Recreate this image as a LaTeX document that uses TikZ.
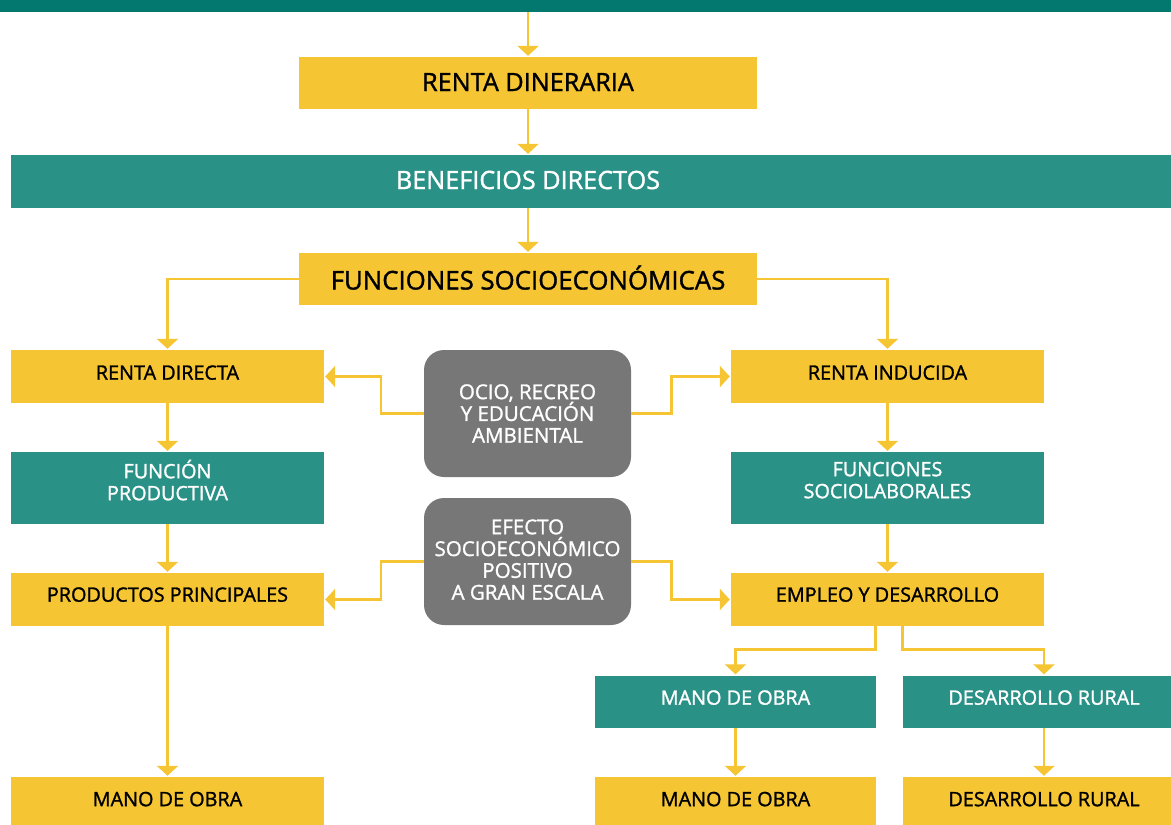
\documentclass[tikz,border=0pt]{standalone}
\usepackage{fontspec}
\setmainfont{Open Sans}[FakeBold=1.3]
\usetikzlibrary{arrows.meta}
\definecolor{cyellow}{HTML}{F5C533}
\definecolor{cteal}{HTML}{2A9187}
\definecolor{cdark}{HTML}{03786F}
\definecolor{cgray}{HTML}{777777}
\tikzset{
  box/.style={rectangle, inner sep=0pt, align=center, font=\fontsize{19.8}{22}\selectfont},
  ybox/.style={box, fill=cyellow, text=black},
  tbox/.style={box, fill=cteal, text=white},
  gbox/.style={box, fill=cgray, text=white, rounded corners=20pt, minimum width=207pt, minimum height=127pt, font=\fontsize{20.5}{21.8}\selectfont},
  big/.style={font=\fontsize{25.2}{28}\selectfont},
  up4/.style={text depth=8pt},
  up8/.style={text depth=16pt},
  arr/.style={draw=cyellow, line width=2.6pt, -{Triangle[width=21pt,length=10pt]}, shorten >=1pt}
}
\begin{document}
\begin{tikzpicture}[x=1pt,y=-1pt]
\useasboundingbox (0,0) rectangle (1171,825);
\clip (0,0) rectangle (1171,825);
\node[box, fill=cdark, minimum width=1171pt, minimum height=12pt] (topbar) at (585.5,6) {};
\node[ybox, big, text depth=2pt, minimum width=458pt, minimum height=52pt] (rdin) at (528,83) {RENTA DINERARIA};
\node[tbox, minimum width=1160pt, minimum height=53pt] (bene) at (591,181.5) {};
\node[box, big, text=white] (benetext) at (528,180) {BENEFICIOS DIRECTOS};
\node[ybox, font=\fontsize{25.8}{29}\selectfont, text depth=3pt, minimum width=458pt, minimum height=52pt] (fsoc) at (528,279) {FUNCIONES SOCIOECONÓMICAS};
\node[ybox, up4, minimum width=313pt, minimum height=53pt] (rdir) at (167.5,376.5) {RENTA DIRECTA};
\node[ybox, up4, minimum width=313pt, minimum height=53pt] (rind) at (887.5,376.5) {RENTA INDUCIDA};
\node[gbox] (ocio) at (527.5,413.5) {OCIO, RECREO\\Y EDUCACIÓN\\AMBIENTAL};
\node[tbox, up8, minimum width=313pt, minimum height=72pt] (fprod) at (167.5,488) {FUNCIÓN\\PRODUCTIVA};
\node[tbox, up8, minimum width=313pt, minimum height=72pt] (fsl) at (887.5,488) {FUNCIONES\\SOCIOLABORALES};
\node[gbox, text depth=4pt] (efecto) at (527.5,561.5) {EFECTO\\SOCIOECONÓMICO\\POSITIVO\\A GRAN ESCALA};
\node[ybox, up4, text depth=10pt, minimum width=313pt, minimum height=53pt] (pprin) at (167.5,599.5) {PRODUCTOS PRINCIPALES};
\node[ybox, up4, text depth=10pt, minimum width=313pt, minimum height=53pt] (empleo) at (887.5,599.5) {EMPLEO Y DESARROLLO};
\node[tbox, up4, minimum width=281pt, minimum height=52pt] (mot) at (735.5,701.5) {MANO DE OBRA};
\node[tbox, up4, minimum width=282pt, minimum height=52pt] (drt) at (1044,701.5) {DESARROLLO RURAL};
\node[ybox, text depth=4pt, minimum width=281pt, minimum height=48pt] (moy) at (735.5,801) {MANO DE OBRA};
\node[ybox, text depth=4pt, minimum width=282pt, minimum height=48pt] (dry) at (1044,801) {DESARROLLO RURAL};
\node[ybox, text depth=4pt, minimum width=313pt, minimum height=48pt] (moyl) at (167.5,801) {MANO DE OBRA};

\draw[arr] (rdin.north |- topbar.south) -- (rdin.north);
\draw[arr] (rdin.south) -- (rdin.south |- bene.north);
\draw[arr] (fsoc.north |- bene.south) -- (fsoc.north);
\draw[arr] (fsoc.west) -| (rdir.north);
\draw[arr] (fsoc.east) -| (rind.north);
\draw[arr] (rdir.south) -- (fprod.north);
\draw[arr] (fprod.south) -- (pprin.north);
\draw[arr] (pprin.south) -- (moyl.north);
\draw[arr] (rind.south) -- (fsl.north);
\draw[arr] (fsl.south) -- (empleo.north);
\draw[arr] (ocio.west) -- ++(-43,0) |- (rdir.east);
\draw[arr] (ocio.east) -- ++(40,0) |- (rind.west);
\draw[arr] (efecto.west) -- ++(-43,0) |- (pprin.east);
\draw[arr] (efecto.east) -- ++(40,0) |- (empleo.west);
\draw[arr] ([xshift=-12pt]empleo.south) -- ++(0,23) -| (mot.north);
\draw[arr] ([xshift=15pt]empleo.south) -- ++(0,23) -| (drt.north);
\draw[arr] (mot.south) -- (moy.north);
\draw[arr] (drt.south) -- (dry.north);
\end{tikzpicture}
\end{document}
